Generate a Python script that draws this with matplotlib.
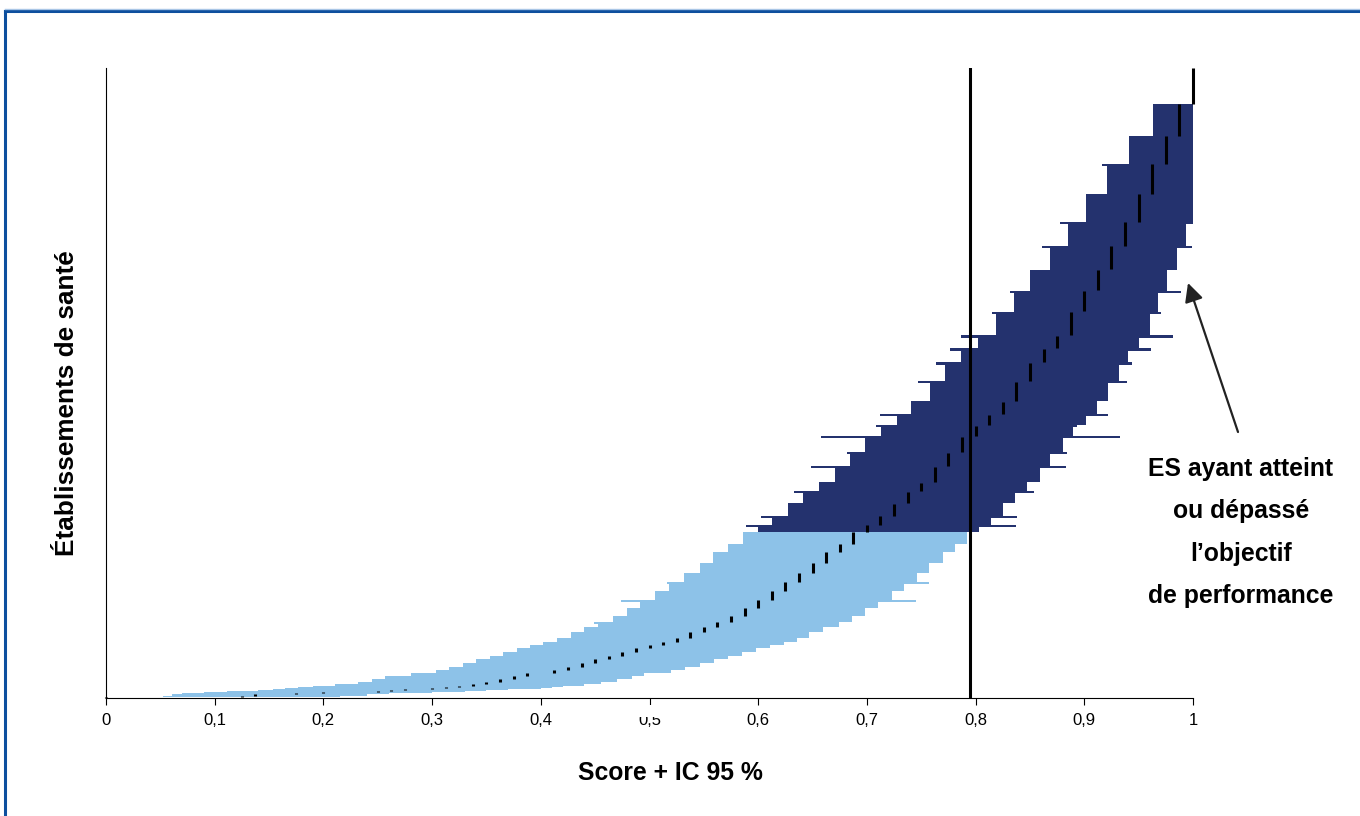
"""Caterpillar plot: score + 95% CI per health establishment, sorted by score."""

import matplotlib
matplotlib.use("Agg")
import matplotlib.pyplot as plt
from matplotlib.patches import Rectangle
import numpy as np

plt.rcParams["font.family"] = ["Liberation Sans", "DejaVu Sans"]

OBJECTIVE = 0.795

# one entry per score level (ascending); n = number of establishments at that score
score = [0.0, 0.125, 0.1375, 0.175, 0.2, 0.25, 0.2625, 0.275, 0.3, 0.3125,
         0.325, 0.3375, 0.35, 0.3625, 0.375, 0.3875, 0.4125, 0.425, 0.4375, 0.45,
         0.4625, 0.475, 0.4875, 0.5, 0.5125, 0.525, 0.5375, 0.55, 0.5625, 0.575,
         0.5875, 0.6, 0.6125, 0.625, 0.6375, 0.65, 0.6625, 0.675, 0.6875, 0.7,
         0.7125, 0.725, 0.7375, 0.75, 0.7625, 0.775, 0.7875, 0.8, 0.8125, 0.825,
         0.8375, 0.85, 0.8625, 0.875, 0.8875, 0.9, 0.9125, 0.925, 0.9375, 0.95,
         0.9625, 0.975, 0.9875, 1.0]
n = [1, 1, 2, 1, 1, 1, 1, 1, 1, 1,
     1, 2, 2, 3, 3, 3, 3, 3, 4, 4,
     3, 4, 4, 3, 3, 4, 6, 5, 5, 6,
     8, 8, 9, 9, 9, 10, 11, 8, 12, 7,
     9, 13, 12, 9, 16, 14, 16, 11, 11, 13,
     20, 19, 14, 13, 24, 21, 21, 24, 24, 28,
     30, 28, 32, 36]
ci_lo = [0.0, 0.052, 0.061, 0.07, 0.09, 0.111, 0.14, 0.154, 0.165, 0.177,
         0.19, 0.211, 0.232, 0.245, 0.257, 0.281, 0.304, 0.316, 0.328, 0.340,
         0.353, 0.365, 0.378, 0.390, 0.402, 0.415, 0.428, 0.440, 0.453, 0.466,
         0.479, 0.491, 0.505, 0.518, 0.532, 0.546, 0.558, 0.572, 0.586, 0.600,
         0.613, 0.627, 0.641, 0.656, 0.671, 0.684, 0.698, 0.713, 0.728, 0.741,
         0.758, 0.772, 0.787, 0.802, 0.819, 0.835, 0.850, 0.868, 0.885, 0.902,
         0.921, 0.941, 0.963, 1.0]
ci_hi = [0.0, 0.215, 0.24, 0.26, 0.30, 0.33, 0.35, 0.37, 0.40, 0.41,
         0.42, 0.44, 0.455, 0.470, 0.484, 0.495, 0.520, 0.533, 0.546, 0.559,
         0.572, 0.585, 0.598, 0.611, 0.624, 0.636, 0.647, 0.660, 0.674, 0.686,
         0.698, 0.710, 0.723, 0.734, 0.746, 0.757, 0.770, 0.781, 0.792, 0.803,
         0.814, 0.825, 0.836, 0.847, 0.859, 0.868, 0.880, 0.890, 0.902, 0.912,
         0.922, 0.932, 0.940, 0.950, 0.960, 0.968, 0.976, 0.985, 0.994, 1.0,
         1.0, 1.0, 1.0, 1.0]
# a couple of establishments per level with a wider interval (nan = none)
nan = float("nan")
wide_lo = [nan] * 28 + [0.449, nan, nan, 0.474, nan, 0.516, nan, nan, nan, nan, nan, 0.589,
                        0.603, nan, 0.633, nan, 0.649, 0.682, 0.658, 0.708, 0.712, nan,
                        0.747, 0.764, 0.776, 0.787, 0.815, 0.832, nan, 0.861, 0.878, nan,
                        0.916, nan, nan, nan]
wide_hi = [nan] * 28 + [0.674, nan, nan, 0.745, nan, 0.757, nan, nan, nan, nan, nan, 0.837,
                        0.838, nan, 0.854, nan, 0.883, 0.884, 0.933, 0.893, 0.922, nan,
                        0.939, 0.944, 0.961, 0.982, 0.971, 0.989, nan, 0.999, 1.0, nan,
                        1.0, nan, nan, nan]
N_WIDE = 2

x_ticks = [0, 0.1, 0.2, 0.3, 0.4, 0.5, 0.6, 0.7, 0.8, 0.9, 1]
x_tick_labels = ["0", "0,1", "0,2", "0,3", "0,4", "0,5", "0,6", "0,7", "0,8", "0,9", "1"]

DARK = "#24326e"
LIGHT = "#8dc2e8"
FRAME = "#0d4f9e"


def main():
    row_lo, row_hi = [], []
    for k in range(len(score)):
        for j in range(n[k]):
            if j >= n[k] - N_WIDE and not np.isnan(wide_lo[k]):
                row_lo.append(wide_lo[k]); row_hi.append(wide_hi[k])
            else:
                row_lo.append(ci_lo[k]); row_hi.append(ci_hi[k])
    row_lo = np.array(row_lo)
    row_hi = np.array(row_hi)
    y = np.arange(len(row_lo))
    colors = np.where(row_hi >= OBJECTIVE, DARK, LIGHT)

    fig = plt.figure(figsize=(13.6, 8.16), dpi=100)
    ax = fig.add_axes([106 / 1360, 118 / 816, 1087 / 1360, 630 / 816])

    ax.barh(y, row_hi - row_lo, left=row_lo, height=1.1, align="edge",
            color=colors, linewidth=0, zorder=2)

    starts = np.cumsum([0] + n[:-1])
    ends = starts + np.array(n)
    ax.vlines(score, starts + 0.2, ends - 0.2, colors="black", lw=2.2,
              zorder=4, clip_on=False)

    ax.axvline(OBJECTIVE, color="black", lw=2.2, zorder=5)

    ax.set_xlim(0, 1)
    ax.set_ylim(0, len(row_lo))
    ax.set_xticks(x_ticks)
    ax.set_xticklabels(x_tick_labels, fontsize=12)
    ax.tick_params(axis="x", length=5, width=0.8, pad=6)
    ax.set_yticks([])
    for side in ("top", "right"):
        ax.spines[side].set_visible(False)
    ax.spines["left"].set_linewidth(0.8)
    ax.spines["bottom"].set_linewidth(0.8)

    # the "0,5" label is half hidden in the original
    fig.add_artist(Rectangle((634 / 1360, 1 - 717 / 816), 34 / 1360, 12 / 816,
                             transform=fig.transFigure, facecolor="white",
                             edgecolor="none", zorder=10))

    fig.text(670 / 1360, 1 - 773 / 816, "Score + IC 95 %", fontsize=17.8,
             fontweight="bold", ha="center", va="center")
    fig.text(67 / 1360, 1 - 403 / 816, "Établissements de santé", fontsize=18.8,
             fontweight="bold", rotation=90, ha="center", va="center")

    fig.text(1241 / 1360, 1 - 457 / 816,
             "ES ayant atteint\nou dépassé\nl\u2019objectif\nde performance",
             fontsize=17.8, fontweight="bold", ha="center", va="top", linespacing=1.97)
    ax.annotate("", xy=(1188 / 1360, 1 - 283 / 816), xycoords="figure fraction",
                xytext=(1238 / 1360, 1 - 432 / 816), textcoords="figure fraction",
                arrowprops=dict(arrowstyle="-|>", mutation_scale=28, lw=1.6,
                                color="#222222", shrinkA=0, shrinkB=0))

    # blue frame (top and left edges visible)
    fig.add_artist(plt.Line2D([5 / 1360, 1.0], [1 - 11 / 816, 1 - 11 / 816],
                              transform=fig.transFigure, color=FRAME, lw=2.2))
    fig.add_artist(plt.Line2D([5 / 1360, 5 / 1360], [0.0, 1 - 11 / 816],
                              transform=fig.transFigure, color=FRAME, lw=2.2))
    fig.add_artist(plt.Line2D([5 / 1360, 1.0], [1 - 9 / 816, 1 - 9 / 816],
                              transform=fig.transFigure, color="#a9c6e6", lw=1))

    fig.savefig("out.png", dpi=100)
    plt.close(fig)


if __name__ == "__main__":
    main()
